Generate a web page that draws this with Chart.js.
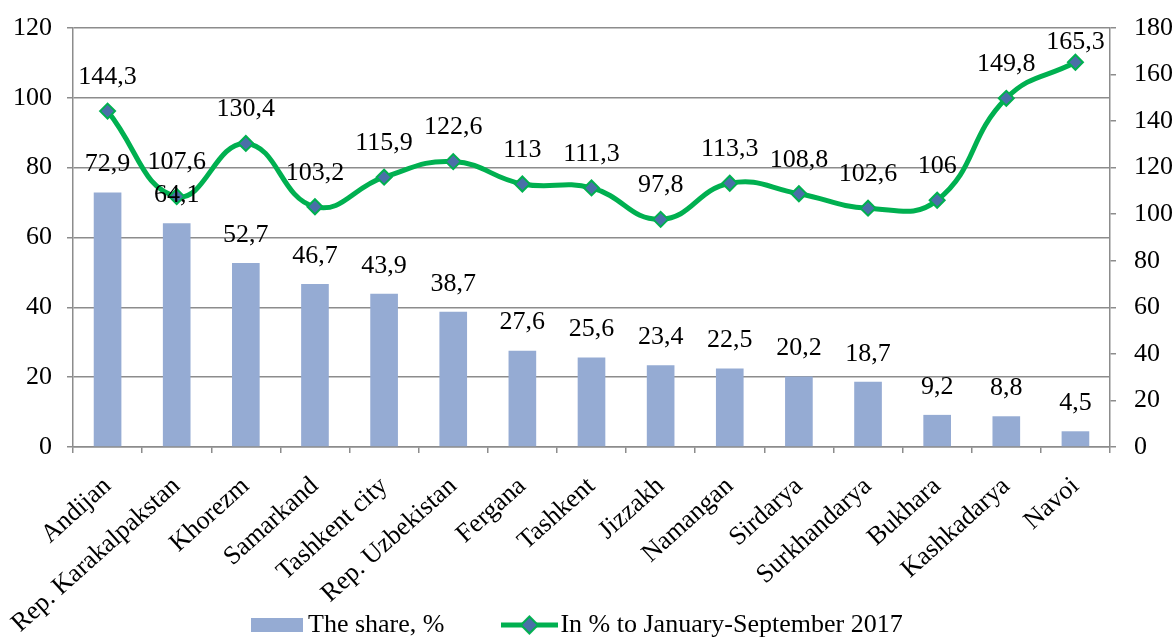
<!DOCTYPE html>
<html>
<head>
<meta charset="utf-8">
<script src="https://cdn.jsdelivr.net/npm/chart.js@4"></script>
<style>
  html, body { margin: 0; padding: 0; background: #fff; }
  #wrap { width: 1176px; height: 637px; position: relative; }
</style>
</head>
<body>
<div id="wrap"><canvas id="c" width="1176" height="637"></canvas></div>
<script>
const categories = ["Andijan", "Rep. Karakalpakstan", "Khorezm", "Samarkand", "Tashkent city",
  "Rep. Uzbekistan", "Fergana", "Tashkent", "Jizzakh", "Namangan", "Sirdarya",
  "Surkhandarya", "Bukhara", "Kashkadarya", "Navoi"];
const shareValues = [72.9, 64.1, 52.7, 46.7, 43.9, 38.7, 27.6, 25.6, 23.4, 22.5, 20.2, 18.7, 9.2, 8.8, 4.5];
const growthValues = [144.3, 107.6, 130.4, 103.2, 115.9, 122.6, 113, 111.3, 97.8, 113.3, 108.8, 102.6, 106, 149.8, 165.3];
const leftTicks = [0, 20, 40, 60, 80, 100, 120];
const rightTicks = [0, 20, 40, 60, 80, 100, 120, 140, 160, 180];
const seriesNames = ["The share, %", "In % to January-September 2017"];

const FONT = '"Liberation Serif", "Times New Roman", serif';
const BAR_COLOR = '#95abd3';
const LINE_COLOR = '#00b050';
const POINT_FILL = '#4a6fa8';
const GRID = '#8c8c8c';
const FS = 26;

Chart.defaults.font.family = FONT;
Chart.defaults.font.size = FS;
Chart.defaults.color = '#000';

const fmt = v => String(v).replace('.', ',');

// legend icons
const barIcon = document.createElement('canvas');
barIcon.width = 52; barIcon.height = 14;
(function(){ const c = barIcon.getContext('2d'); c.fillStyle = BAR_COLOR; c.fillRect(0, 0, 52, 14); })();
const lineIcon = document.createElement('canvas');
lineIcon.width = 57; lineIcon.height = 20;
(function(){
  const c = lineIcon.getContext('2d');
  c.strokeStyle = LINE_COLOR; c.lineWidth = 5;
  c.beginPath(); c.moveTo(0, 10); c.lineTo(57, 10); c.stroke();
  c.beginPath(); c.moveTo(28.5, 1.5); c.lineTo(37, 10); c.lineTo(28.5, 18.5); c.lineTo(20, 10); c.closePath();
  c.fillStyle = POINT_FILL; c.fill(); c.lineWidth = 2; c.strokeStyle = LINE_COLOR; c.stroke();
})();
const icons = [barIcon, lineIcon];

const valueLabels = {
  id: 'valueLabels',
  afterDatasetsDraw(chart) {
    const ctx = chart.ctx;
    ctx.save();
    ctx.font = FS + 'px ' + FONT;
    ctx.fillStyle = '#000';
    ctx.textAlign = 'center';
    ctx.textBaseline = 'middle';
    chart.data.datasets.forEach((ds, di) => {
      const meta = chart.getDatasetMeta(di);
      meta.data.forEach((el, i) => {
        const t = fmt(ds.data[i]);
        let y;
        if (ds.type === 'bar') y = el.y - 28;
        else y = Math.max(el.y - 34, chart.chartArea.top + 14);
        ctx.fillText(t, el.x, y);
      });
    });
    ctx.restore();
  }
};

const legendPlace = {
  id: 'legendPlace',
  afterLayout(chart) {
    const lg = chart.legend;
    if (lg && lg.lineWidths) {
      const pad = lg.options.labels.padding;
      const start = (lg.left + pad + lg.right - lg.lineWidths[0]) / 2;
      const dx = (chart.chartArea.left + 186) - start;
      lg.left += dx; lg.right += dx;
      const itemTop = lg.top + pad;
      const dy = (chart.height - 25) - itemTop;
      lg.top += dy; lg.bottom += dy;
    }
    // let rotated category labels run down to the bottom edge
    const xs = chart.scales.x;
    xs.bottom = chart.height;
    xs.height = xs.bottom - xs.top;
  }
};

new Chart(document.getElementById('c'), {
  data: {
    labels: categories,
    datasets: [
      {
        type: 'bar',
        label: seriesNames[0],
        data: shareValues,
        backgroundColor: BAR_COLOR,
        yAxisID: 'y',
        categoryPercentage: 1,
        barPercentage: 0.4,
        order: 2
      },
      {
        type: 'line',
        label: seriesNames[1],
        data: growthValues,
        yAxisID: 'y2',
        borderColor: LINE_COLOR,
        borderWidth: 5,
        tension: 0.45,
        pointStyle: 'rectRot',
        pointRadius: 7.5,
        pointBackgroundColor: POINT_FILL,
        pointBorderColor: LINE_COLOR,
        pointBorderWidth: 2,
        order: 1
      }
    ]
  },
  options: {
    responsive: false,
    animation: false,
    layout: { padding: { top: 28, left: 0, right: 0, bottom: 0 } },
    plugins: {
      tooltip: { enabled: false },
      legend: {
        position: 'bottom',
        labels: {
          font: { size: FS, family: FONT },
          color: '#000',
          usePointStyle: true,
          pointStyleWidth: 36,
          padding: 67,
          sort: (a, b) => a.datasetIndex - b.datasetIndex,
          generateLabels(chart) {
            const items = Chart.defaults.plugins.legend.labels.generateLabels(chart);
            items.forEach(it => { it.pointStyle = icons[it.datasetIndex]; });
            return items;
          }
        }
      }
    },
    scales: {
      x: {
        offset: true,
        grid: { display: true, drawOnChartArea: false, drawTicks: true, tickLength: 6, color: GRID, lineWidth: 1.5, offset: true },
        border: { display: true, color: GRID, width: 1.5 },
        ticks: { minRotation: 42, maxRotation: 42, padding: 18, font: { size: FS }, autoSkip: false },
        afterFit(scale) { scale.height = 87; }
      },
      y: {
        position: 'left',
        min: leftTicks[0],
        max: leftTicks[leftTicks.length - 1],
        ticks: { stepSize: leftTicks[1] - leftTicks[0], padding: 15, font: { size: FS } },
        grid: { color: GRID, lineWidth: 1.5, tickLength: 6, drawTicks: true },
        border: { display: true, color: GRID, width: 1.5 },
        afterFit(scale) { scale.width = 73; scale.paddingTop = 0; scale.paddingBottom = 0; }
      },
      y2: {
        position: 'right',
        min: rightTicks[0],
        max: rightTicks[rightTicks.length - 1],
        ticks: { stepSize: rightTicks[1] - rightTicks[0], padding: 18, font: { size: FS } },
        grid: { drawOnChartArea: false, color: GRID, lineWidth: 1.5, tickLength: 6, drawTicks: true },
        border: { display: true, color: GRID, width: 1.5 },
        afterFit(scale) { scale.width = 66; scale.paddingTop = 0; scale.paddingBottom = 0; }
      }
    }
  },
  plugins: [valueLabels, legendPlace]
});
</script>
</body>
</html>
